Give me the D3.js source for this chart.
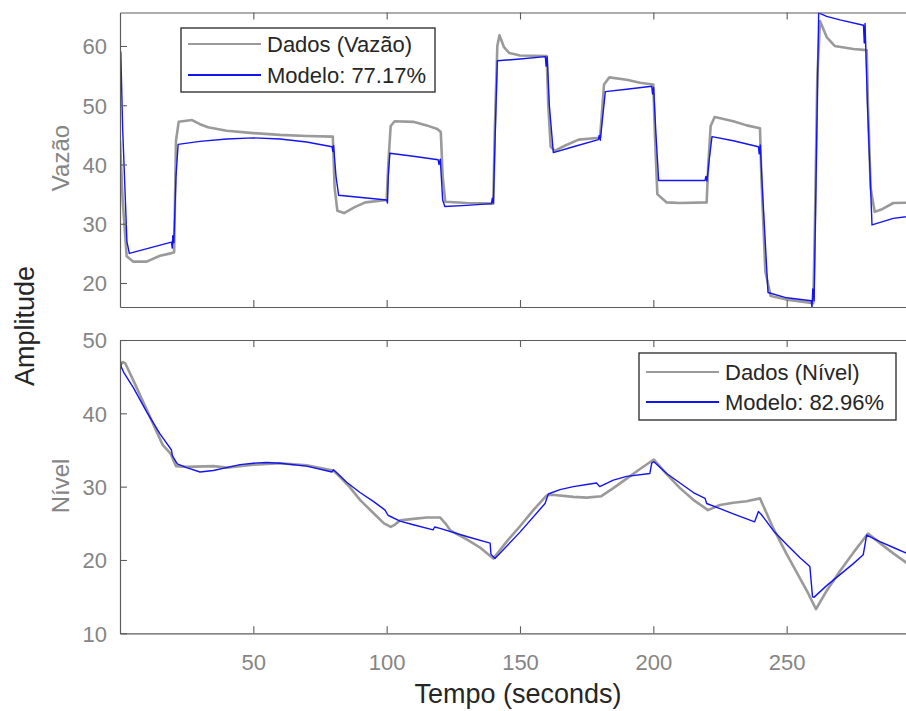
<!DOCTYPE html>
<html>
<head>
<meta charset="utf-8">
<script src="https://cdn.jsdelivr.net/npm/d3@7"></script>
<style>
  html, body { margin: 0; padding: 0; background: #ffffff; }
  svg { display: block; font-family: "Liberation Sans", Arial, Helvetica, sans-serif; }
</style>
</head>
<body>
<svg id="chart" width="906" height="711"></svg>
<script>
// ---------------- DATA ----------------
const xTicks = [50, 100, 150, 200, 250];
const vazaoTicks = [20, 30, 40, 50, 60];
const nivelTicks = [10, 20, 30, 40, 50];
const xDomain = [0, 300];
const vazaoDomain = [15.95, 65.65];
const nivelDomain = [10, 50];

const vazaoLegend = ["Dados (Vazão)", "Modelo: 77.17%"];
const nivelLegend = ["Dados (Nível)", "Modelo: 82.96%"];
const yLabels = ["Vazão", "Nível"];
const commonYLabel = "Amplitude";
const xLabel = "Tempo (seconds)";

// Vazão - measured data
const vazaoDadosT = [0, 1, 2.5, 5, 10, 15, 19, 20.3, 21, 22, 27, 30, 33, 40, 50, 60, 70, 79.8, 80.5, 81.5, 84, 88, 92, 100,
  100.6, 101.5, 103, 110, 115, 119, 120.3, 121, 122, 130, 140, 140.5, 141.5, 142.3, 144, 146, 150, 160,
  160.6, 161.5, 163, 167, 172, 180, 180.6, 181.5, 183.5, 190, 195, 200, 200.6, 201.5, 205, 210, 220,
  220.6, 221.5, 223, 230, 235, 240, 240.5, 242, 244, 250, 260, 260.6, 261.5, 262.5, 265, 268, 275, 280,
  280.5, 281.5, 283, 286, 290, 300];
const vazaoDadosV = [44, 34, 24.5, 23.6, 23.6, 24.6, 25.0, 25.2, 44, 47.2, 47.5, 46.8, 46.3, 45.7, 45.3, 45.0, 44.8, 44.7, 36, 32.2, 31.8, 32.8, 33.6, 34.0,
  40, 46.5, 47.3, 47.2, 46.6, 46.0, 45.5, 38, 33.7, 33.5, 33.4, 45, 60, 61.8, 59.8, 58.8, 58.4, 58.3,
  50, 43, 42.3, 43.2, 44.2, 44.5, 48, 53.5, 54.7, 54.3, 53.8, 53.5, 45, 35, 33.6, 33.5, 33.6,
  40, 46.5, 48.0, 47.3, 46.6, 46.1, 38, 22, 17.8, 17.2, 16.6, 30, 55, 64.2, 61.5, 60.0, 59.5, 59.3,
  50, 36, 32.0, 32.5, 33.5, 33.6];

// Vazão - model output
const vazaoModeloT = [0, 0.3, 1, 2.6, 3.5, 19.3, 19.6, 19.8, 20.2, 21, 21.8, 30, 40, 50, 60, 70, 79.5, 79.8, 80.1, 81, 82, 100, 100.3, 100.6, 101.2,
  110, 119.3, 119.6, 120.1, 121, 121.8, 130, 139.3, 139.6, 140.0, 141, 141.5, 150, 159.5, 159.8, 160.2, 161, 162.5,
  170, 179.4, 179.7, 180.1, 181, 182, 190, 199.4, 199.7, 200.1, 201, 202, 210, 219.4, 219.7, 220.1, 221, 222,
  230, 239.4, 239.7, 240.1, 241, 243, 250, 259.2, 259.5, 259.8, 260.3, 262, 265, 270, 278.8, 279.1, 279.4, 280.3, 282, 290, 300];
const vazaoModeloV = [51, 59, 46, 27, 25.0, 26.9, 25.9, 28.0, 26.8, 38, 43.4, 43.9, 44.3, 44.5, 44.3, 43.8, 43.0, 42.2, 43.2, 38, 34.8, 34.0, 33.5, 38, 41.9,
  41.4, 40.8, 40.0, 40.9, 34, 32.9, 33.1, 33.4, 34.3, 33.5, 50, 57.5, 57.8, 58.2, 56.6, 58.2, 50, 42.0,
  43.0, 44.2, 44.9, 44.1, 48, 52.3, 52.7, 53.2, 51.9, 53.0, 45, 37.3, 37.3, 37.3, 38.0, 37.2, 41, 44.7,
  44.0, 43.0, 41.8, 43.3, 35, 18.4, 17.5, 17.0, 15.95, 19, 17, 65.6, 65.0, 64.4, 63.5, 60.5, 63.8, 50, 29.8, 30.9, 31.5];

// Nível - measured data
const nivelDadosT = [0, 1, 2, 5, 10, 16, 19, 21, 25, 35, 40, 45, 50, 60, 70, 80, 82, 86, 90, 95, 99, 101.5, 103, 105, 110, 115, 120,
  122, 124, 130, 135, 140, 145, 150, 155, 160, 162, 170, 175, 180.5, 185, 190, 195, 200.2, 205, 210, 215, 220.5,
  225, 230, 235, 240, 245, 250, 255, 258, 261, 265, 270, 275, 280.5, 285, 290, 295, 300];
const nivelDadosV = [46.5, 47.0, 46.8, 44.5, 40.5, 35.7, 34.5, 32.8, 32.7, 32.8, 32.6, 32.8, 33.0, 33.2, 32.9, 32.2, 31.5, 30.0, 28.2, 26.4, 25.0, 24.5, 24.8, 25.4, 25.6, 25.8, 25.8,
  25.0, 24.0, 22.8, 21.7, 20.2, 22.5, 24.6, 26.8, 28.8, 28.9, 28.6, 28.5, 28.7, 29.8, 31.1, 32.4, 33.7, 31.7, 29.8, 28.2, 26.8,
  27.5, 27.8, 28.0, 28.4, 24.3, 20.8, 17.5, 15.5, 13.3, 15.8, 18.5, 21.0, 23.6, 22.3, 20.9, 19.6, 18.7];

// Nível - model output
const nivelModeloT = [0, 0.5, 1.5, 5, 10, 15, 19.3, 19.6, 20, 21.5, 25, 30, 35, 40, 45, 50, 55, 60, 70, 79.5, 80, 81, 85, 90, 95, 99.4, 100.5,
  105, 110, 117.4, 118, 120, 130, 138.8, 139.1, 140.6, 150, 159.4, 160.6, 165, 170, 175, 178.7, 179.9, 185, 190, 198.7, 199.4, 200.2,
  205, 210, 215, 219.4, 220, 225, 230, 238, 239.4, 240.5, 245, 250, 255, 258.7, 259.7, 260.2, 265, 270, 275, 278.7, 280, 285, 290, 295, 300];
const nivelModeloV = [47.5, 46.3, 45.5, 43.5, 40.2, 37.2, 35.0, 34.3, 34.0, 33.1, 32.6, 32.0, 32.2, 32.6, 33.0, 33.2, 33.3, 33.2, 32.8, 32.0, 32.3, 32.0, 30.6, 29.2, 28.0, 26.8, 26.1,
  25.3, 24.8, 24.1, 24.5, 24.3, 23.2, 22.3, 20.8, 20.2, 23.8, 27.7, 29.0, 29.6, 30.0, 30.3, 30.5, 30.0, 30.9, 31.4, 31.8, 33.2, 33.4,
  31.8, 30.5, 29.2, 28.4, 27.7, 27.0, 26.3, 25.2, 26.6, 26.2, 24.0, 22.1, 20.3, 19.1, 15.0, 14.9, 16.5, 18.0, 19.5, 20.7, 23.4, 22.5, 21.7, 20.9, 20.1];

// ---------------- DRAWING ----------------
const svg = d3.select("#chart");
const axisColor = "#5c5c5c";
const tickTextColor = "#858585";
const darkText = "#262626";
const dataColor = "#9a9a9a";
const modelColor = "#1414f2";

const left = 120, right = 920;
const x = d3.scaleLinear().domain(xDomain).range([left, right]);

const panels = [
  { top: 12.5, bottom: 307, domain: vazaoDomain, ticks: vazaoTicks, showX: false,
    dT: vazaoDadosT, dV: vazaoDadosV, mT: vazaoModeloT, mV: vazaoModeloV,
    ylabel: yLabels[0], ylabelY: 158, legend: vazaoLegend,
    lg: { x0: 181, y0: 28, x1: 435, y1: 92, ly: [44, 75] } },
  { top: 340, bottom: 633.3, domain: nivelDomain, ticks: nivelTicks, showX: true,
    dT: nivelDadosT, dV: nivelDadosV, mT: nivelModeloT, mV: nivelModeloV,
    ylabel: yLabels[1], ylabelY: 486, legend: nivelLegend,
    lg: { x0: 639, y0: 353, x1: 896, y1: 420, ly: [372, 402] } }
];

panels.forEach((p, i) => {
  const y = d3.scaleLinear().domain(p.domain).range([p.bottom, p.top]);
  const g = svg.append("g");

  const clipId = "clip" + i;
  svg.append("clipPath").attr("id", clipId)
    .append("rect").attr("x", left).attr("y", p.top).attr("width", right - left).attr("height", p.bottom - p.top);

  // data lines
  const line = d3.line().x(d => x(d[0])).y(d => y(d[1]));
  const dPts = p.dT.map((t, k) => [t, p.dV[k]]);
  const mPts = p.mT.map((t, k) => [t, p.mV[k]]);
  g.append("path").attr("clip-path", `url(#${clipId})`)
    .attr("d", line(dPts)).attr("fill", "none")
    .attr("stroke", dataColor).attr("stroke-width", 2.6).attr("stroke-linejoin", "round");
  g.append("path").attr("clip-path", `url(#${clipId})`)
    .attr("d", line(mPts)).attr("fill", "none")
    .attr("stroke", modelColor).attr("stroke-width", 1.4).attr("stroke-linejoin", "round");

  // axes (box with inner ticks)
  const axL = d3.axisLeft(y).tickValues(p.ticks).tickSizeInner(-7).tickSizeOuter(0).tickPadding(13);
  const axB = d3.axisBottom(x).tickValues(xTicks).tickSizeInner(-7).tickSizeOuter(0).tickPadding(21);
  const axT = d3.axisTop(x).tickValues(xTicks).tickSizeInner(-7).tickSizeOuter(0).tickFormat("");
  const axR = d3.axisRight(y).tickValues(p.ticks).tickSizeInner(-7).tickSizeOuter(0).tickFormat("");

  const gl = g.append("g").attr("transform", `translate(${left},0)`).call(axL);
  const gb = g.append("g").attr("transform", `translate(0,${p.bottom})`).call(axB);
  const gt = g.append("g").attr("transform", `translate(0,${p.top})`).call(axT);
  const gr = g.append("g").attr("transform", `translate(${right},0)`).call(axR);
  if (!p.showX) gb.selectAll("text").remove();

  [gl, gb, gt, gr].forEach(a => {
    a.selectAll("path.domain").attr("stroke", axisColor).attr("stroke-width", 1.2);
    a.selectAll(".tick line").attr("stroke", axisColor).attr("stroke-width", 1.1);
    a.selectAll(".tick text").attr("fill", tickTextColor)
      .style("font-family", '"Liberation Sans", Arial, sans-serif')
      .style("font-size", "22px");
  });
  gl.selectAll(".tick text").attr("dy", "0.36em");
  gb.selectAll(".tick text").attr("dy", "0.71em");

  // y label
  svg.append("text")
    .attr("transform", `translate(69,${p.ylabelY}) rotate(-90)`)
    .attr("text-anchor", "middle")
    .attr("fill", tickTextColor)
    .style("font-size", "24px")
    .text(p.ylabel);

  // legend
  const lg = p.lg;
  const leg = svg.append("g");
  leg.append("rect").attr("x", lg.x0).attr("y", lg.y0)
    .attr("width", lg.x1 - lg.x0).attr("height", lg.y1 - lg.y0)
    .attr("fill", "#ffffff").attr("stroke", darkText).attr("stroke-width", 1.3);
  const lineX0 = lg.x0 + 7, lineX1 = lg.x0 + 80;
  [dataColor, modelColor].forEach((c, k) => {
    leg.append("line").attr("x1", lineX0).attr("x2", lineX1)
      .attr("y1", lg.ly[k]).attr("y2", lg.ly[k])
      .attr("stroke", c).attr("stroke-width", k === 0 ? 2.2 : 1.8);
    leg.append("text").attr("x", lineX1 + 6).attr("y", lg.ly[k]).attr("dy", "0.36em")
      .attr("fill", darkText).style("font-size", "22px")
      .text(p.legend[k]);
  });
});

// common labels
svg.append("text")
  .attr("transform", "translate(34,326) rotate(-90)")
  .attr("text-anchor", "middle").attr("fill", darkText)
  .style("font-size", "27px")
  .text(commonYLabel);

svg.append("text")
  .attr("x", 518).attr("y", 703)
  .attr("text-anchor", "middle").attr("fill", darkText)
  .style("font-size", "27px")
  .text(xLabel);
</script>
</body>
</html>
